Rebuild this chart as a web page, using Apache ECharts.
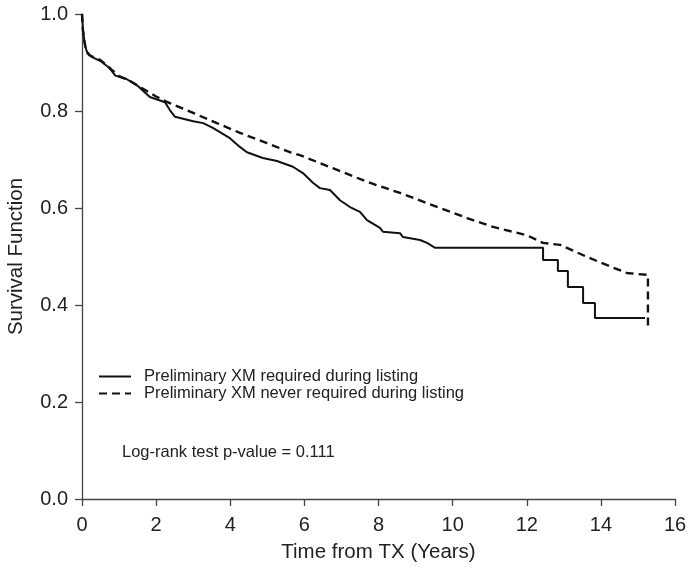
<!DOCTYPE html>
<html>
<head>
<meta charset="utf-8">
<script src="https://cdn.jsdelivr.net/npm/echarts@6/dist/echarts.min.js"></script>
<style>html,body{margin:0;padding:0;background:#fff}#c{width:690px;height:574px}</style>
</head>
<body>
<div id="c"></div>
<script>
var seriesNames = ['Preliminary XM required during listing', 'Preliminary XM never required during listing'];
var xTicks = [0, 2, 4, 6, 8, 10, 12, 14, 16];
var yTicks = [0.0, 0.2, 0.4, 0.6, 0.8, 1.0];
var requiredTime = [0, 0.03, 0.08, 0.15, 0.3, 0.5, 0.75, 0.9, 1.2, 1.5, 1.83, 2.24, 2.37, 2.51, 3.0, 3.27, 3.53, 3.99, 4.26, 4.45, 4.88, 5.26, 5.69, 5.96, 6.23, 6.42, 6.69, 6.96, 7.23, 7.5, 7.69, 8.04, 8.12, 8.58, 8.66, 9.12, 9.31, 9.53, 12.44, 12.44, 12.84, 12.84, 13.11, 13.11, 13.52, 13.52, 13.84, 13.84, 15.19];
var requiredSurv = [1.0, 0.965, 0.935, 0.918, 0.91, 0.903, 0.888, 0.873, 0.866, 0.852, 0.829, 0.818, 0.802, 0.788, 0.779, 0.775, 0.765, 0.744, 0.726, 0.715, 0.703, 0.697, 0.685, 0.672, 0.652, 0.641, 0.637, 0.616, 0.602, 0.592, 0.575, 0.559, 0.551, 0.548, 0.540, 0.534, 0.528, 0.518, 0.518, 0.493, 0.493, 0.470, 0.470, 0.437, 0.437, 0.404, 0.404, 0.373, 0.373];
var neverTime = [0, 0.02, 0.05, 0.1, 0.2, 0.5, 0.8, 1.0, 1.3, 1.6, 2.0, 2.29, 3.0, 3.64, 4.26, 4.99, 5.61, 5.88, 6.34, 6.77, 7.69, 8.58, 9.31, 10.2, 10.39, 11.09, 12.0, 12.44, 12.9, 13.63, 14.17, 14.7, 15.27, 15.27];
var neverSurv = [1.0, 0.97, 0.95, 0.93, 0.915, 0.905, 0.885, 0.872, 0.862, 0.848, 0.830, 0.819, 0.796, 0.775, 0.755, 0.734, 0.715, 0.709, 0.695, 0.682, 0.654, 0.631, 0.610, 0.585, 0.579, 0.561, 0.544, 0.528, 0.524, 0.499, 0.482, 0.466, 0.462, 0.355];

function pairs(t, s) { return t.map(function (v, i) { return [v, s[i]]; }); }

var font = 'Liberation Sans, Arial, sans-serif';
var chart = echarts.init(document.getElementById('c'));
chart.setOption({
  backgroundColor: '#fff',
  animation: false,
  textStyle: { fontFamily: font },
  grid: { left: 82, right: 15, top: 14, bottom: 75, containLabel: false, outerBoundsMode: 'none' },
  legend: {
    orient: 'vertical', left: 93, top: 363, itemGap: 0, itemWidth: 32, itemHeight: 12,
    data: seriesNames,
    itemStyle: { opacity: 0 },
    textStyle: { fontSize: 16.5, color: '#222', fontFamily: font, padding: [0, 0, 0, 8] }
  },
  xAxis: {
    type: 'value', min: xTicks[0], max: xTicks[xTicks.length - 1], interval: 2,
    name: 'Time from TX (Years)', nameLocation: 'middle', nameGap: 43,
    nameTextStyle: { fontSize: 20.5, color: '#222', fontFamily: font },
    axisLine: { lineStyle: { color: '#444', width: 1.3 } },
    axisTick: { length: 7, lineStyle: { color: '#444', width: 1.3 } },
    axisLabel: { fontSize: 20, color: '#222', margin: 16, fontFamily: font },
    splitLine: { show: false }
  },
  yAxis: {
    type: 'value', min: yTicks[0], max: yTicks[yTicks.length - 1], interval: 0.2,
    name: 'Survival Function', nameLocation: 'middle', nameGap: 55,
    nameTextStyle: { fontSize: 20.5, color: '#222', fontFamily: font },
    axisLine: { show: true, lineStyle: { color: '#444', width: 1.3 } },
    axisTick: { show: true, length: 7, lineStyle: { color: '#444', width: 1.3 } },
    axisLabel: { fontSize: 20, color: '#222', margin: 14, fontFamily: font, formatter: function (v) { return v.toFixed(1); } },
    splitLine: { show: false }
  },
  graphic: [{
    type: 'text', left: 122, top: 444,
    style: { text: 'Log-rank test p-value = 0.111', fontSize: 16.5, fill: '#222', fontFamily: font }
  }],
  series: [
    {
      name: seriesNames[0], type: 'line', data: pairs(requiredTime, requiredSurv),
      symbol: 'none', lineStyle: { color: '#111', width: 2 }, itemStyle: { color: '#111' }
    },
    {
      name: seriesNames[1], type: 'line', data: pairs(neverTime, neverSurv),
      symbol: 'none', lineStyle: { color: '#111', width: 2.4, type: [8, 5] }, itemStyle: { color: '#111' }
    }
  ]
});
</script>
</body>
</html>
